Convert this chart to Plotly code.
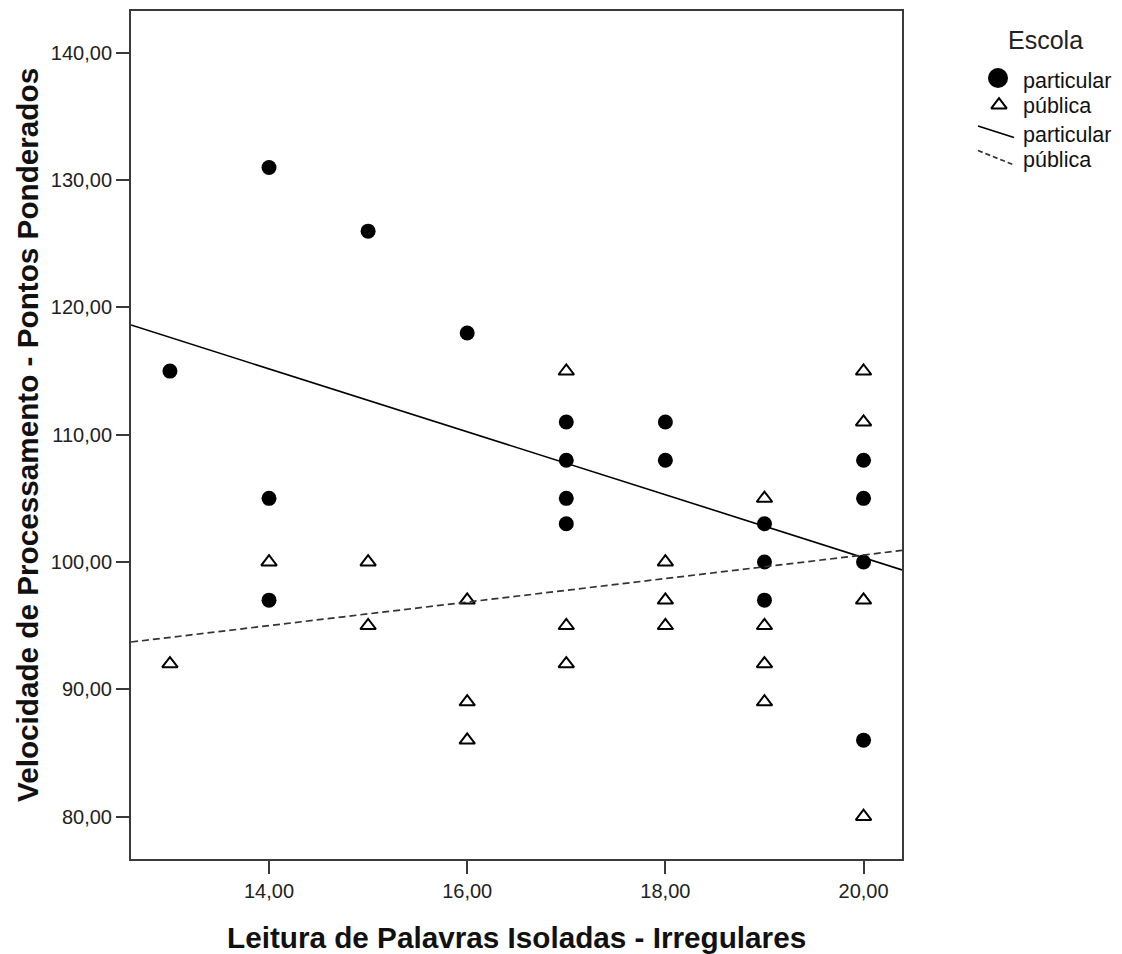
import plotly.graph_objects as go

# ---- data ----
part_x = [13, 14, 14, 14, 15, 16, 17, 17, 17, 17, 18, 18, 19, 19, 19, 20, 20, 20, 20]
part_y = [115, 131, 105, 97, 126, 118, 111, 108, 105, 103, 111, 108, 103, 100, 97, 108, 105, 100, 86]

pub_x = [13, 14, 15, 15, 16, 16, 16, 17, 17, 17, 18, 18, 18, 19, 19, 19, 19, 20, 20, 20, 20]
pub_y = [92, 100, 100, 95, 97, 89, 86, 115, 95, 92, 100, 97, 95, 105, 95, 92, 89, 115, 111, 97, 80]

# fit lines (intercept, slope)
fit_part = (149.8, -2.473)
fit_pub = (82.05, 0.925)

x_ticks = [14, 16, 18, 20]
x_tick_labels = ["14,00", "16,00", "18,00", "20,00"]
y_ticks = [80, 90, 100, 110, 120, 130, 140]
y_tick_labels = ["80,00", "90,00", "100,00", "110,00", "120,00", "130,00", "140,00"]

x_title = "Leitura de Palavras Isoladas - Irregulares"
y_title = "Velocidade de Processamento - Pontos Ponderados"
legend_title = "Escola"
groups = ["particular", "pública"]

X_RANGE = [12.607, 20.388]
Y_RANGE = [76.66, 143.3]

W, H = 1122, 954
PL, PR, PT, PB = 131, 902, 11, 859  # plot area in px

def fy(fit, x):
    return fit[0] + fit[1] * x

fig = go.Figure()

fig.add_trace(go.Scatter(
    x=part_x, y=part_y, mode="markers", showlegend=False,
    marker=dict(symbol="circle", size=15, color="black"),
))
fig.add_trace(go.Scatter(
    x=pub_x, y=pub_y, mode="markers", showlegend=False,
    marker=dict(symbol="triangle-up-open", size=13.5, color="black",
                line=dict(width=2, color="black")),
))
fig.add_trace(go.Scatter(
    x=X_RANGE, y=[fy(fit_part, v) for v in X_RANGE], mode="lines", showlegend=False,
    line=dict(color="black", width=1.6),
))
fig.add_trace(go.Scatter(
    x=X_RANGE, y=[fy(fit_pub, v) for v in X_RANGE], mode="lines", showlegend=False,
    line=dict(color="#333333", width=1.7, dash="7px,4px"),
))

# ---- manual legend on a full-figure pixel axis ----
fig.add_trace(go.Scatter(x=[998], y=[78], xaxis="x2", yaxis="y2", mode="markers",
                         showlegend=False, hoverinfo="skip",
                         marker=dict(symbol="circle", size=20, color="black")))
fig.add_trace(go.Scatter(x=[999], y=[105], xaxis="x2", yaxis="y2", mode="markers",
                         showlegend=False, hoverinfo="skip",
                         marker=dict(symbol="triangle-up-open", size=13.5, color="black",
                                     line=dict(width=2, color="black"))))
fig.add_trace(go.Scatter(x=[978, 1014], y=[126, 137.5], xaxis="x2", yaxis="y2", mode="lines",
                         showlegend=False, hoverinfo="skip",
                         line=dict(color="black", width=1.6)))
fig.add_trace(go.Scatter(x=[978, 1014], y=[150.5, 165], xaxis="x2", yaxis="y2", mode="lines",
                         showlegend=False, hoverinfo="skip",
                         line=dict(color="#333333", width=1.7, dash="5px,3px")))

FONT = "Liberation Sans, Arial, sans-serif"

annotations = [
    dict(text=legend_title, x=1045, y=40, xref="x2", yref="y2", showarrow=False,
         font=dict(family=FONT, size=25, color="#222"), xanchor="center", yanchor="middle"),
    dict(text=groups[0], x=1021, y=81, xref="x2", yref="y2", showarrow=False,
         font=dict(family=FONT, size=21.5, color="#111"), xanchor="left", yanchor="middle"),
    dict(text=groups[1], x=1021, y=106, xref="x2", yref="y2", showarrow=False,
         font=dict(family=FONT, size=21.5, color="#111"), xanchor="left", yanchor="middle"),
    dict(text=groups[0], x=1021, y=135, xref="x2", yref="y2", showarrow=False,
         font=dict(family=FONT, size=21.5, color="#111"), xanchor="left", yanchor="middle"),
    dict(text=groups[1], x=1021, y=160, xref="x2", yref="y2", showarrow=False,
         font=dict(family=FONT, size=21.5, color="#111"), xanchor="left", yanchor="middle"),
    dict(text="<b>" + x_title + "</b>", x=(PL + PR) / 2, y=937, xref="x2", yref="y2",
         showarrow=False, font=dict(family=FONT, size=29.7, color="#111"),
         xanchor="center", yanchor="middle"),
    dict(text="<b>" + y_title + "</b>", x=27, y=(PT + PB) / 2, xref="x2", yref="y2",
         showarrow=False, textangle=-90, font=dict(family=FONT, size=29.7, color="#111"),
         xanchor="center", yanchor="middle"),
]

axis_common = dict(
    showgrid=False, zeroline=False, showline=True, mirror=True,
    linecolor="#3a3a3a", linewidth=2,
    ticks="outside", ticklen=13, tickwidth=2, tickcolor="#3a3a3a",
    tickfont=dict(family=FONT, size=20, color="#222"),
)

fig.update_layout(
    width=W, height=H, autosize=False,
    margin=dict(l=0, r=0, t=0, b=0),
    paper_bgcolor="white", plot_bgcolor="rgba(0,0,0,0)",
    showlegend=False,
    xaxis=dict(domain=[PL / W, PR / W], range=X_RANGE, tickvals=x_ticks,
               ticktext=x_tick_labels, automargin=False, anchor="y", **axis_common),
    yaxis=dict(domain=[1 - PB / H, 1 - PT / H], range=Y_RANGE, tickvals=y_ticks,
               ticktext=y_tick_labels, automargin=False, anchor="x", **axis_common),
    xaxis2=dict(domain=[0, 1], range=[0, W], visible=False,
                anchor="y2", fixedrange=True),
    yaxis2=dict(domain=[0, 1], range=[H, 0], visible=False,
                anchor="x2", fixedrange=True),
    annotations=annotations,
)

fig.write_html("out.html")
